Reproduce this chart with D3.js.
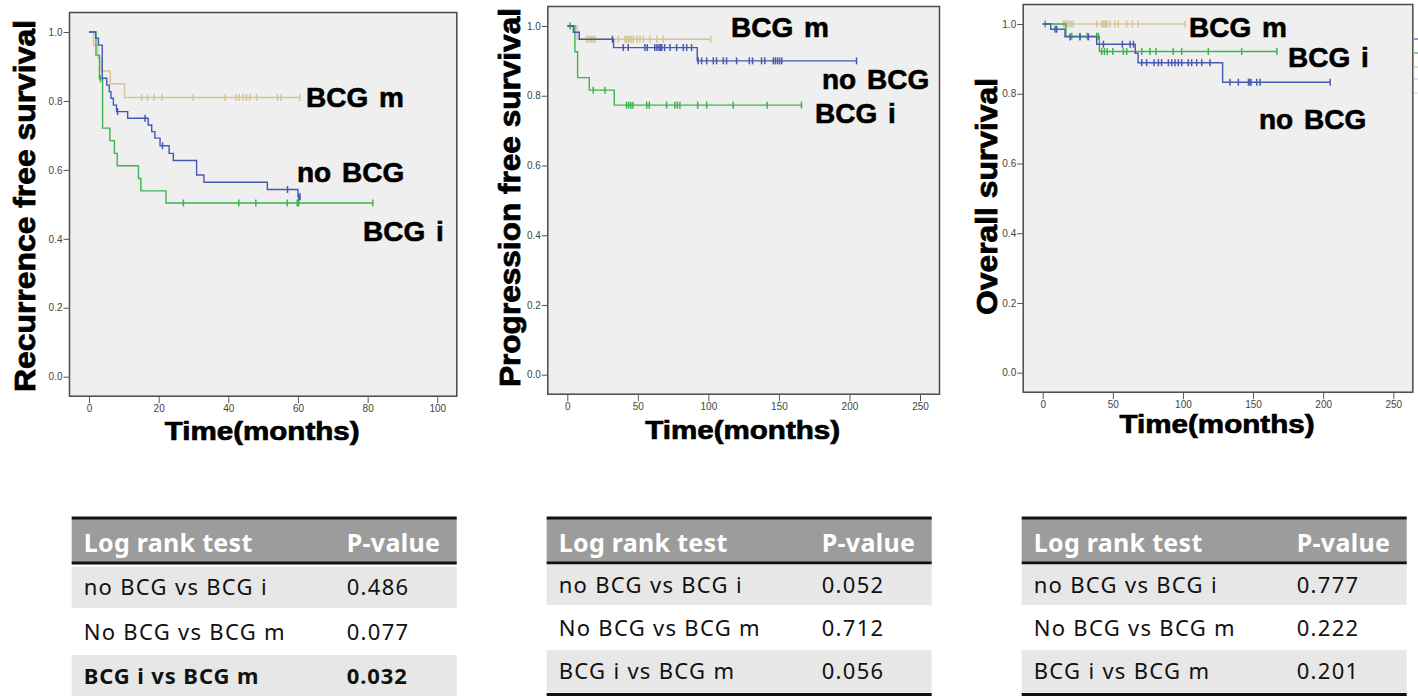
<!DOCTYPE html>
<html>
<head>
<meta charset="utf-8">
<script src="https://cdn.jsdelivr.net/npm/d3@7"></script>
<style>
  body { margin: 0; background: #fff; }
  svg { display: block; }
</style>
</head>
<body>
<div id="chart"></div>
<script>
// --- Data ---
const seriesNames = ["BCG m", "BCG i", "no BCG"];
const seriesColors = { "BCG m": "#d3c797", "BCG i": "#3fb34c", "no BCG": "#4658b2" };

const yTitles = ["Recurrence free survival", "Progression free survival", "Overall survival"];
const xTitle = "Time(months)";
const xMaxes = [100, 250, 250];
const xTickValues = [[0, 20, 40, 60, 80, 100], [0, 50, 100, 150, 200, 250], [0, 50, 100, 150, 200, 250]];
const yTickValues = [0, 0.2, 0.4, 0.6, 0.8, 1.0];

// [month, survival after drop]
const rfsNoBcgEvents = [[1.9, 0.982], [2.7, 0.962], [3.8, 0.866], [5.1, 0.846], [5.8, 0.827], [6.3, 0.808], [7.0, 0.788],
  [7.9, 0.769], [11.1, 0.750], [17.0, 0.730], [18.0, 0.711], [18.9, 0.692], [20.4, 0.670], [23.0, 0.648], [24.2, 0.627],
  [30.9, 0.585], [33.0, 0.564], [51.2, 0.543], [60.0, 0.522]];
const rfsNoBcgCensored = [8.2, 16.1, 21.1, 57.0, 60.2, 60.6];
const rfsNoBcgEnd = 60.6;

const rfsBcgIEvents = [[2.0, 0.933], [3.0, 0.864], [3.9, 0.721], [6.0, 0.685], [7.3, 0.648], [8.1, 0.612],
  [14.2, 0.575], [14.9, 0.539], [22.1, 0.504]];
const rfsBcgICensored = [3.3, 27.1, 43.0, 47.9, 56.9, 59.8, 60.2, 81.5];
const rfsBcgIEnd = 81.5;

const rfsBcgMEvents = [[1.3, 0.962], [2.5, 0.925], [3.5, 0.887], [6.1, 0.850], [10.2, 0.810]];
const rfsBcgMCensored = [15.1, 16.8, 18.7, 21.0, 29.9, 39.1, 42.2, 43.1, 44.2, 45.2, 46.2, 48.1, 54.1, 55.1, 60.5];
const rfsBcgMEnd = 60.5;

const pfsNoBcgEvents = [[4.3, 0.982], [8.5, 0.962], [32.8, 0.938], [92.1, 0.900]];
const pfsNoBcgCensored = [32.0, 39.7, 43.2, 55.0, 56.7, 62.0, 63.5, 65.0, 66.0, 67.0, 69.0, 72.8, 77.5, 82.2, 84.6, 88.1,
  92.8, 95.2, 98.8, 103.5, 105.8, 110.6, 112.9, 120.0, 129.0, 131.3, 137.7, 140.0, 146.0, 147.5, 149.0, 150.5, 152.0, 205.0];
const pfsNoBcgEnd = 205;

const pfsBcgIEvents = [[5.4, 0.926], [7.3, 0.852], [15.6, 0.816], [33.3, 0.773]];
const pfsBcgICensored = [2.0, 18.4, 26.7, 42.0, 43.5, 45.0, 46.5, 56.3, 58.1, 70.4, 76.3, 78.0, 79.8, 92.4, 98.8, 117.6, 141.7, 166.0];
const pfsBcgIEnd = 166;

const pfsBcgMEvents = [[7.0, 0.962]];
const pfsBcgMCensored = [13.7, 15.0, 16.1, 17.3, 18.4, 19.6, 36.2, 40.9, 42.0, 43.2, 44.4, 45.6, 46.8, 49.2, 51.5, 53.9,
  58.6, 63.4, 68.0, 101.6];
const pfsBcgMEnd = 101.6;

const osNoBcgEvents = [[5.7, 0.985], [15.9, 0.963], [38.5, 0.942], [66.0, 0.916], [68.0, 0.889], [128.3, 0.833]];
const osNoBcgCensored = [8.8, 10.0, 19.5, 26.6, 32.6, 43.3, 56.8, 62.3, 64.7, 70.6, 74.1, 79.4, 82.5, 84.8, 89.6, 92.0,
  94.3, 96.7, 99.1, 103.8, 106.2, 109.8, 113.4, 119.3, 133.6, 139.5, 146.7, 147.8, 148.5, 152.6, 155.0, 205.0];
const osNoBcgEnd = 205;

const osBcgIEvents = [[16.6, 0.965], [40.4, 0.921]];
const osBcgICensored = [1.8, 20.7, 26.6, 31.8, 38.5, 39.7, 42.0, 44.0, 46.0, 50.0, 57.5, 59.9, 70.6, 76.5, 80.8, 93.1,
  99.1, 118.1, 141.9, 167.0];
const osBcgIEnd = 167;

const osBcgMEvents = [];
const osBcgMCensored = [14.7, 15.5, 16.5, 17.5, 19.0, 20.5, 21.8, 38.5, 42.0, 43.0, 44.0, 45.0, 46.0, 48.0, 51.6, 53.9,
  59.9, 64.0, 68.2, 101.6];
const osBcgMEnd = 101.6;

// Log rank tables
const tableHeader = ["Log rank test", "P-value"];
const comparisons = ["no BCG vs BCG i", "No BCG vs BCG m", "BCG i vs BCG m"];
const pRecurrence = ["0.486", "0.077", "0.032"];
const pProgression = ["0.052", "0.712", "0.056"];
const pOverall = ["0.777", "0.222", "0.201"];
const boldRows = [[2], [], []];

// --- Build panels from the arrays above ---
const panels = [
  {
    series: {
      "BCG m": { events: rfsBcgMEvents, censored: rfsBcgMCensored, end: rfsBcgMEnd },
      "BCG i": { events: rfsBcgIEvents, censored: rfsBcgICensored, end: rfsBcgIEnd },
      "no BCG": { events: rfsNoBcgEvents, censored: rfsNoBcgCensored, end: rfsNoBcgEnd }
    },
    xr: [89, 437.3], yr: [376.7, 32],
    yTitle: { x: 35, y: 206, len: 372 }, xTitleY: 440,
    labels: { "BCG m": [306, 107], "no BCG": [297, 182], "BCG i": [363, 241] }
  },
  {
    series: {
      "BCG m": { events: pfsBcgMEvents, censored: pfsBcgMCensored, end: pfsBcgMEnd },
      "BCG i": { events: pfsBcgIEvents, censored: pfsBcgICensored, end: pfsBcgIEnd },
      "no BCG": { events: pfsNoBcgEvents, censored: pfsNoBcgCensored, end: pfsNoBcgEnd }
    },
    xr: [567.3, 920], yr: [374.7, 26],
    yTitle: { x: 520, y: 197.5, len: 379 }, xTitleY: 439,
    labels: { "BCG m": [731, 37], "no BCG": [822, 89], "BCG i": [815, 123] }
  },
  {
    series: {
      "BCG m": { events: osBcgMEvents, censored: osBcgMCensored, end: osBcgMEnd },
      "BCG i": { events: osBcgIEvents, censored: osBcgICensored, end: osBcgIEnd },
      "no BCG": { events: osNoBcgEvents, censored: osNoBcgCensored, end: osNoBcgEnd }
    },
    xr: [1042.7, 1393.3], yr: [372.7, 24],
    yTitle: { x: 997, y: 196.5, len: 237 }, xTitleY: 433,
    labels: { "BCG m": [1189, 37], "BCG i": [1288, 67], "no BCG": [1259, 129] }
  }
];

const width = 1418;
const height = 696;
const pad = 19.5;
const boldFont = "'Liberation Sans', Arial, sans-serif";
const tableFont = "'Noto Sans', 'Open Sans', sans-serif";

const svg = d3.select("#chart").append("svg")
  .attr("width", width)
  .attr("height", height)
  .attr("viewBox", [0, 0, width, height]);

function survivalAt(events, t) {
  let s = 1;
  for (const [et, es] of events) if (et <= t) s = es;
  return s;
}

panels.forEach((p, i) => {
  const x = d3.scaleLinear().domain([0, xMaxes[i]]).range(p.xr);
  const y = d3.scaleLinear().domain([0, 1]).range(p.yr);

  const fx0 = p.xr[0] - pad, fx1 = p.xr[1] + pad;
  const fy0 = p.yr[1] - pad, fy1 = p.yr[0] + pad;

  const g = svg.append("g");

  // plot background + frame
  g.append("rect")
    .attr("x", fx0).attr("y", fy0)
    .attr("width", fx1 - fx0).attr("height", fy1 - fy0)
    .attr("fill", "#efefef")
    .attr("stroke", "#4a4a4a")
    .attr("stroke-width", 1.5);

  // axes
  const yAxis = g.append("g")
    .attr("transform", `translate(${fx0},0)`)
    .call(d3.axisLeft(y).tickValues(yTickValues).tickFormat(d3.format(".1f")).tickSize(6).tickPadding(1));
  const xAxis = g.append("g")
    .attr("transform", `translate(0,${fy1})`)
    .call(d3.axisBottom(x).tickValues(xTickValues[i]).tickSize(7).tickPadding(2));
  [xAxis, yAxis].forEach(a => {
    a.select(".domain").remove();
    a.selectAll("line").attr("stroke", "#555");
    a.selectAll("text").attr("fill", "#444").attr("font-size", "10px").attr("font-family", boldFont);
  });

  // curves
  const line = d3.line().x(d => x(d[0])).y(d => y(d[1])).curve(d3.curveStepAfter);
  seriesNames.forEach(name => {
    const s = p.series[name];
    const pts = [[0, 1], ...s.events.filter(e => e[0] <= s.end)];
    pts.push([s.end, survivalAt(s.events, s.end)]);
    g.append("path")
      .attr("d", line(pts))
      .attr("fill", "none")
      .attr("stroke", seriesColors[name])
      .attr("stroke-width", 1.4);

    g.append("g").selectAll("line")
      .data(s.censored)
      .join("line")
      .attr("x1", d => x(d)).attr("x2", d => x(d))
      .attr("y1", d => y(survivalAt(s.events, d)) - 3.5)
      .attr("y2", d => y(survivalAt(s.events, d)) + 3.5)
      .attr("stroke", seriesColors[name])
      .attr("stroke-width", 1.5);
  });

  // group labels
  Object.entries(p.labels).forEach(([name, [lx, ly]]) => {
    g.append("text")
      .attr("x", lx).attr("y", ly)
      .attr("font-family", boldFont)
      .attr("font-weight", 700)
      .attr("font-size", "28px")
      .attr("fill", "#000")
      .attr("stroke", "#000")
      .attr("stroke-width", 0.6)
      .attr("word-spacing", "3px")
      .text(name);
  });

  // axis titles
  g.append("text")
    .attr("transform", `translate(${p.yTitle.x},${p.yTitle.y}) rotate(-90)`)
    .attr("text-anchor", "middle")
    .attr("font-family", boldFont)
    .attr("font-weight", 700)
    .attr("font-size", "30px")
    .attr("stroke", "#000")
    .attr("stroke-width", 0.8)
    .attr("textLength", p.yTitle.len)
    .attr("lengthAdjust", "spacingAndGlyphs")
    .text(yTitles[i]);

  g.append("text")
    .attr("x", (p.xr[0] + p.xr[1]) / 2 - 1)
    .attr("y", p.xTitleY)
    .attr("text-anchor", "middle")
    .attr("font-family", boldFont)
    .attr("font-weight", 700)
    .attr("font-size", "25px")
    .attr("stroke", "#000")
    .attr("stroke-width", 0.7)
    .attr("textLength", 195)
    .attr("lengthAdjust", "spacingAndGlyphs")
    .text(xTitle);
});

// cut-off legend swatches at the right edge of the last plot
[["no BCG", 39], ["BCG i", 53], ["BCG m", 67], ["no BCG", 79], ["BCG i", 93]].forEach(([name, ly], k) => {
  svg.append("line")
    .attr("x1", 1414).attr("x2", 1418).attr("y1", ly).attr("y2", ly)
    .attr("stroke", seriesColors[name])
    .attr("stroke-opacity", k < 3 ? 0.8 : 0.25)
    .attr("stroke-width", 1.5);
});

// --- Log rank tables ---
const tables = [
  { left: 71.7, pvals: pRecurrence, rows: [[566.7, 608], [608, 655], [655, 697]], bottomLine: false },
  { left: 546.7, pvals: pProgression, rows: [[564.5, 605], [605, 650], [650, 692.5]], bottomLine: true },
  { left: 1021.7, pvals: pOverall, rows: [[564.5, 605], [605, 650], [650, 692.5]], bottomLine: true }
];
const tableWidth = 385;
const colX = [12, 275];

tables.forEach((t, ti) => {
  const tg = svg.append("g");
  tg.append("rect")
    .attr("x", t.left).attr("y", 518)
    .attr("width", tableWidth).attr("height", 45)
    .attr("fill", "#9c9c9c");
  tg.append("line")
    .attr("x1", t.left).attr("x2", t.left + tableWidth)
    .attr("y1", 518).attr("y2", 518)
    .attr("stroke", "#111").attr("stroke-width", 3);
  tg.append("line")
    .attr("x1", t.left).attr("x2", t.left + tableWidth)
    .attr("y1", 563).attr("y2", 563)
    .attr("stroke", "#111").attr("stroke-width", 3);

  tableHeader.forEach((h, c) => {
    tg.append("text")
      .attr("x", t.left + colX[c]).attr("y", 551.5)
      .attr("font-family", tableFont)
      .attr("font-weight", 700)
      .attr("font-size", "25px")
      .attr("letter-spacing", "0.3px")
      .attr("fill", "#fff")
      .text(h);
  });

  comparisons.forEach((cmp, r) => {
    const [r0, r1] = t.rows[r];
    if (r % 2 === 0) {
      tg.append("rect")
        .attr("x", t.left).attr("y", r0)
        .attr("width", tableWidth).attr("height", r1 - r0)
        .attr("fill", "#e7e7e7");
    }
    const bold = boldRows[ti].includes(r);
    [cmp, t.pvals[r]].forEach((txt, c) => {
      tg.append("text")
        .attr("x", t.left + colX[c]).attr("y", (r0 + r1) / 2 + 8)
        .attr("font-family", tableFont)
        .attr("font-weight", bold ? 700 : 400)
        .attr("font-size", "22px")
        .attr("letter-spacing", bold ? "0.9px" : "1.3px")
        .attr("fill", "#111")
        .text(txt);
    });
  });

  if (t.bottomLine) {
    tg.append("line")
      .attr("x1", t.left).attr("x2", t.left + tableWidth)
      .attr("y1", 694.5).attr("y2", 694.5)
      .attr("stroke", "#111").attr("stroke-width", 3);
  }
});
</script>
</body>
</html>
